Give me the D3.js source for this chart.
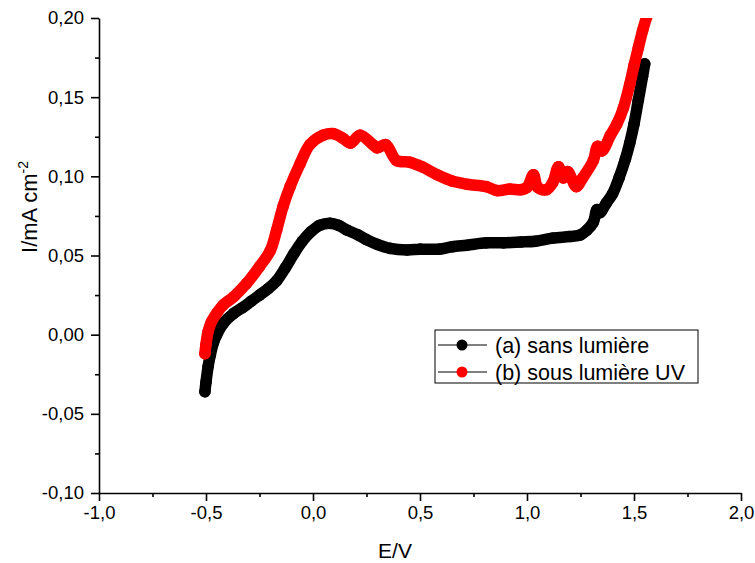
<!DOCTYPE html>
<html>
<head>
<meta charset="utf-8">
<script src="https://cdn.jsdelivr.net/npm/d3@7"></script>
<style>
  html, body { margin: 0; padding: 0; background: #fff; }
  svg { display: block; font-family: "Liberation Sans", Arial, sans-serif; }
</style>
</head>
<body>
<svg id="chart" width="755" height="563"></svg>
<script>
// Potential (V) and current density (mA cm-2), curve (a): without light
const potentialA = [-0.505, -0.50, -0.49, -0.48, -0.465, -0.45, -0.42, -0.37, -0.33, -0.29, -0.25, -0.21, -0.17,
  -0.13, -0.09, -0.05, -0.01, 0.03, 0.08, 0.12, 0.16, 0.21, 0.25, 0.30, 0.36, 0.44, 0.50, 0.59, 0.65, 0.72,
  0.81, 0.89, 0.97, 1.04, 1.12, 1.20, 1.25, 1.28, 1.31, 1.327, 1.34, 1.37, 1.40, 1.43, 1.46, 1.48, 1.50, 1.52, 1.54, 1.55];
const currentA = [-0.036, -0.030, -0.020, -0.013, -0.005, 0.000, 0.007, 0.0135, 0.017, 0.021, 0.025, 0.029, 0.034,
  0.042, 0.051, 0.059, 0.065, 0.069, 0.0703, 0.069, 0.066, 0.063, 0.060, 0.057, 0.0545, 0.0535, 0.054, 0.054, 0.0555, 0.0565,
  0.058, 0.058, 0.0585, 0.059, 0.061, 0.062, 0.063, 0.066, 0.071, 0.079, 0.077, 0.083, 0.089, 0.099, 0.111, 0.121, 0.133, 0.148, 0.163, 0.171];

// Curve (b): under UV light
const potentialB = [-0.505, -0.50, -0.49, -0.475, -0.45, -0.42, -0.37, -0.31, -0.25, -0.20, -0.17, -0.14, -0.107,
  -0.06, -0.015, 0.048, 0.095, 0.14, 0.175, 0.22, 0.28, 0.30, 0.34, 0.39, 0.45, 0.51, 0.58, 0.65, 0.72, 0.81, 0.86,
  0.92, 0.97, 1.00, 1.03, 1.05, 1.09, 1.12, 1.147, 1.17, 1.19, 1.23, 1.26, 1.31, 1.33, 1.35, 1.39, 1.42, 1.45,
  1.48, 1.50, 1.52, 1.54, 1.56];
const currentB = [-0.012, -0.006, 0.002, 0.008, 0.0135, 0.0187, 0.024, 0.0324, 0.043, 0.053, 0.066, 0.081, 0.0935,
  0.108, 0.120, 0.126, 0.127, 0.124, 0.121, 0.126, 0.120, 0.118, 0.120, 0.110, 0.109, 0.106, 0.101, 0.097, 0.095, 0.0935, 0.091,
  0.092, 0.0915, 0.093, 0.101, 0.093, 0.0915, 0.096, 0.106, 0.099, 0.103, 0.0935, 0.099, 0.110, 0.119, 0.116, 0.126, 0.133, 0.143,
  0.158, 0.170, 0.181, 0.192, 0.201];

const seriesNames = ["(a) sans lumière", "(b) sous lumière UV"];
const seriesColors = ["#000000", "#ff0000"];

const xTicks = [-1.0, -0.5, 0.0, 0.5, 1.0, 1.5, 2.0];
const yTicks = [-0.10, -0.05, 0.00, 0.05, 0.10, 0.15, 0.20];
const xMinorTicks = [-0.75, -0.25, 0.25, 0.75, 1.25, 1.75];
const yMinorTicks = [-0.075, -0.025, 0.025, 0.075, 0.125, 0.175];

const svg = d3.select("#chart");
const plot = { left: 99, right: 741, top: 18, bottom: 493 };

const x = d3.scaleLinear().domain([-1.0, 2.0]).range([plot.left, plot.right]);
const y = d3.scaleLinear().domain([-0.10, 0.20]).range([plot.bottom, plot.top]);

const commaFmt = (digits) => (v) => d3.format("." + digits + "f")(v).replace(".", ",").replace("−", "-");

// clip the curves to the plotting frame
svg.append("defs").append("clipPath").attr("id", "plotClip")
  .append("rect")
  .attr("x", plot.left).attr("y", plot.top)
  .attr("width", plot.right - plot.left).attr("height", plot.bottom - plot.top);

const series = [
  potentialA.map((e, i) => ({ e, i: currentA[i] })),
  potentialB.map((e, i) => ({ e, i: currentB[i] }))
];

const line = d3.line().x(d => x(d.e)).y(d => y(d.i)).curve(d3.curveCatmullRom.alpha(0.5));

const dataG = svg.append("g").attr("clip-path", "url(#plotClip)");
series.forEach((pts, k) => {
  const g = dataG.append("g");
  g.append("path")
    .datum(pts)
    .attr("d", line)
    .attr("fill", "none")
    .attr("stroke", seriesColors[k])
    .attr("stroke-width", 11.5)
    .attr("stroke-linejoin", "round")
    .attr("stroke-linecap", "round");
  g.selectAll("circle").data(pts).join("circle")
    .attr("cx", d => x(d.e))
    .attr("cy", d => y(d.i))
    .attr("r", 5.8)
    .attr("fill", seriesColors[k]);
});

// axes
const xAxis = svg.append("g")
  .attr("transform", `translate(0,${plot.bottom})`)
  .call(d3.axisBottom(x).tickValues(xTicks).tickFormat(commaFmt(1)).tickSizeInner(8).tickSizeOuter(0).tickPadding(5));
svg.append("g")
  .attr("transform", `translate(0,${plot.bottom})`)
  .call(d3.axisBottom(x).tickValues(xMinorTicks).tickFormat("").tickSizeInner(4).tickSizeOuter(0))
  .call(g => g.select(".domain").remove());

const yAxis = svg.append("g")
  .attr("transform", `translate(${plot.left},0)`)
  .call(d3.axisLeft(y).tickValues(yTicks).tickFormat(commaFmt(2)).tickSizeInner(8).tickSizeOuter(0).tickPadding(7));
svg.append("g")
  .attr("transform", `translate(${plot.left},0)`)
  .call(d3.axisLeft(y).tickValues(yMinorTicks).tickFormat("").tickSizeInner(4).tickSizeOuter(0))
  .call(g => g.select(".domain").remove());

svg.selectAll(".domain, .tick line").attr("stroke", "#000").attr("stroke-width", 1.6);
xAxis.selectAll(".tick text").attr("font-size", 18.5).attr("fill", "#000");
yAxis.selectAll(".tick text").attr("font-size", 18.5).attr("fill", "#000");

// axis titles
svg.append("text")
  .attr("x", 395).attr("y", 558)
  .attr("text-anchor", "middle")
  .attr("font-size", 21)
  .text("E/V");

const yTitle = svg.append("text")
  .attr("transform", "translate(37,207) rotate(-90)")
  .attr("text-anchor", "middle")
  .attr("font-size", 22);
yTitle.append("tspan").text("I/mA cm");
yTitle.append("tspan").attr("dy", -9).attr("font-size", 14).text("-2");

// legend
const legend = svg.append("g");
legend.append("rect")
  .attr("x", 435).attr("y", 330).attr("width", 263).attr("height", 53)
  .attr("fill", "#fff").attr("stroke", "#000").attr("stroke-width", 1);
seriesNames.forEach((name, k) => {
  const cy = 345 + k * 27;
  legend.append("line")
    .attr("x1", 438).attr("x2", 487).attr("y1", cy).attr("y2", cy)
    .attr("stroke", "#000").attr("stroke-width", 1);
  legend.append("circle")
    .attr("cx", 462).attr("cy", cy).attr("r", 5.5)
    .attr("fill", seriesColors[k]);
  legend.append("text")
    .attr("x", 495).attr("y", cy + 7.5)
    .attr("font-size", 21.5)
    .text(name);
});
</script>
</body>
</html>
